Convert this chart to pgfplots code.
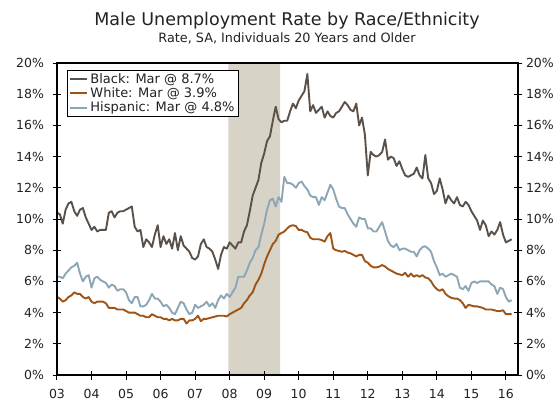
\documentclass[border=0pt]{standalone}
\usepackage{fontspec}
\setmainfont{DejaVu Sans}
\usepackage{pgfplots}
\usepackage{pgfplotstable}
\pgfplotsset{compat=1.18}

\definecolor{blackser}{HTML}{5C5149}
\definecolor{whiteser}{HTML}{9E5416}
\definecolor{hispser}{HTML}{8CA6B6}
\definecolor{recess}{HTML}{D7D3C7}
\definecolor{txt}{HTML}{222222}

% Male unemployment rate, 20 years and older, SA, monthly from Jan 2003 (k = months since Jan 2003)
\pgfplotstableread{
k black white hisp
0 10.4 5.0 6.3
1 10.3 4.9 6.3
2 9.7 4.7 6.2
3 10.6 4.8 6.5
4 11.0 5.0 6.7
5 11.1 5.1 6.9
6 10.5 5.3 7.0
7 10.2 5.2 7.2
8 10.6 5.2 6.5
9 10.7 5.0 6.0
10 10.1 4.9 6.3
11 9.7 5.0 6.4
12 9.3 4.7 5.6
13 9.5 4.6 6.2
14 9.2 4.7 6.3
15 9.3 4.7 6.1
16 9.3 4.7 6.0
17 9.3 4.6 5.9
18 10.4 4.3 5.6
19 10.5 4.3 5.8
20 10.1 4.3 5.7
21 10.4 4.2 5.4
22 10.5 4.2 5.5
23 10.5 4.2 5.5
24 10.6 4.1 5.3
25 10.7 4.0 4.8
26 10.8 4.0 4.6
27 9.5 4.0 5.0
28 9.2 3.9 5.0
29 9.3 3.8 4.4
30 8.2 3.8 4.4
31 8.7 3.7 4.5
32 8.5 3.7 4.8
33 8.2 3.9 5.2
34 9.0 3.8 4.9
35 9.6 3.7 4.9
36 8.2 3.7 4.7
37 8.9 3.6 4.4
38 8.4 3.6 4.5
39 8.7 3.5 4.3
40 8.1 3.6 4.0
41 9.1 3.5 3.9
42 8.0 3.5 4.3
43 8.9 3.6 4.7
44 8.3 3.6 4.6
45 8.1 3.3 4.2
46 7.9 3.5 3.9
47 7.5 3.5 4.0
48 7.4 3.6 4.5
49 7.6 3.8 4.3
50 8.4 3.45 4.4
51 8.7 3.6 4.5
52 8.2 3.6 4.7
53 8.1 3.65 4.4
54 7.9 3.7 4.6
55 7.4 3.75 4.3
56 6.8 3.8 4.8
57 7.7 3.8 5.1
58 8.2 3.8 4.9
59 8.1 3.75 5.2
60 8.5 3.9 5.0
61 8.3 4.0 5.3
62 8.1 4.1 5.6
63 8.5 4.2 6.3
64 8.5 4.3 6.3
65 9.2 4.6 6.3
66 9.6 4.8 6.7
67 10.5 5.1 7.2
68 11.5 5.3 7.5
69 12.0 5.8 8.0
70 12.5 6.1 8.2
71 13.6 6.5 9.0
72 14.2 7.1 9.7
73 15.0 7.6 10.6
74 15.3 8.0 11.2
75 16.3 8.4 11.3
76 17.2 8.6 10.8
77 16.4 9.0 11.4
78 16.2 9.1 11.1
79 16.3 9.2 12.7
80 16.3 9.4 12.3
81 16.9 9.55 12.3
82 17.4 9.6 12.2
83 17.1 9.55 12.0
84 17.6 9.3 12.3
85 17.9 9.3 12.4
86 18.2 9.2 12.1
87 19.3 9.15 11.9
88 16.9 8.8 11.5
89 17.3 8.7 11.4
90 16.8 8.7 11.4
91 17.0 8.7 10.9
92 17.2 8.65 11.4
93 16.5 8.55 11.2
94 16.9 8.9 11.7
95 16.6 9.1 12.2
96 16.5 8.1 11.9
97 16.8 8.0 11.3
98 16.9 7.95 10.8
99 17.2 7.9 10.7
100 17.5 7.95 10.7
101 17.3 7.85 10.3
102 17.0 7.8 10.0
103 16.9 7.7 9.7
104 17.4 7.6 9.5
105 16.0 7.7 10.1
106 16.5 7.7 10.0
107 15.4 7.3 10.0
108 12.8 7.2 9.4
109 14.3 7.0 9.4
110 14.1 6.9 9.2
111 14.0 6.9 9.2
112 14.1 6.95 9.5
113 14.3 7.05 9.8
114 15.1 6.95 9.2
115 13.8 6.8 8.6
116 14.0 6.7 8.3
117 13.9 6.6 8.2
118 13.4 6.5 8.4
119 13.7 6.45 8.0
120 13.2 6.4 8.1
121 12.8 6.55 8.1
122 12.7 6.3 8.0
123 12.8 6.5 7.9
124 12.9 6.3 7.9
125 13.3 6.4 7.6
126 12.8 6.3 8.0
127 12.6 6.4 8.2
128 14.1 6.25 8.25
129 12.6 6.2 8.1
130 12.3 6.0 7.9
131 11.6 5.7 7.3
132 11.8 5.5 6.9
133 12.6 5.4 6.4
134 11.9 5.5 6.5
135 11.0 5.2 6.3
136 11.5 5.05 6.4
137 11.2 4.95 6.5
138 11.0 4.9 6.4
139 11.4 4.9 6.3
140 10.9 4.8 5.6
141 10.8 4.6 5.5
142 11.1 4.3 5.7
143 10.9 4.5 5.4
144 10.5 4.45 5.9
145 10.2 4.4 6.0
146 9.9 4.4 5.9
147 9.3 4.35 6.0
148 9.9 4.3 6.0
149 9.6 4.2 6.0
150 8.9 4.2 6.0
151 9.2 4.2 5.8
152 9.0 4.15 5.7
153 9.3 4.1 5.2
154 9.8 4.1 5.6
155 9.0 4.15 5.5
156 8.5 3.9 5.0
157 8.6 3.9 4.7
158 8.7 3.9 4.8
}\ratedata

\pgfplotsset{
  chartbase/.style={
    at={(57pt,25pt)}, anchor=south west,
    scale only axis, width=461pt, height=312pt,
    xmin=2003, xmax=2016.35, ymin=0, ymax=20,
    ytick={0,2,...,20},
    /pgf/number format/assume math mode=true,
    /pgf/number format/fixed, /pgf/number format/precision=0,
    yticklabel={\pgfmathprintnumber{\tick}\%},
    tick align=center, major tick length=9pt,
    tick style={black, line width=1pt},
    axis line style={black, line width=1.2pt},
    ticklabel style={font=\fontsize{12.5}{14}\selectfont, text=txt},
  }
}

\begin{document}
\begin{tikzpicture}
\useasboundingbox (0,0) rectangle (560pt,400pt);

\node[text=txt, font=\fontsize{17.5}{20}\selectfont, anchor=base] at (287pt,374.3pt) {Male Unemployment Rate by Race/Ethnicity};
\node[text=txt, font=\fontsize{12.8}{15}\selectfont, anchor=base] at (287pt,357.3pt) {Rate, SA, Individuals 20 Years and Older};

\begin{axis}[chartbase,
  axis on top,
  xtick={2003,2004,...,2016},
  xticklabels={03,04,05,06,07,08,09,10,11,12,13,14,15,16},
  xtick pos=bottom, ytick pos=left,
  xticklabel style={yshift=-6pt},
  yticklabel style={xshift=-5pt},
  legend style={at={(axis description cs:0.022,0.978)}, anchor=north west,
    draw=black, line width=0.8pt, fill=white,
    font=\fontsize{13}{14}\selectfont, text=txt,
    inner xsep=2pt, inner ysep=1pt, row sep=-1pt,
    cells={anchor=west}},
  legend image code/.code={\draw[#1] (0pt,0pt) -- (17pt,0pt);},
]
% recession shading, Dec 2007 -- Jun 2009
\addplot[fill=recess, draw=none, forget plot]
  coordinates {(2007.96,0) (2007.96,20) (2009.46,20) (2009.46,0)} \closedcycle;

\addplot[blackser, line width=1.9pt, line join=round]
  table[x expr=2003+\thisrow{k}/12, y=black] {\ratedata};
\addplot[whiteser, line width=1.9pt, line join=round]
  table[x expr=2003+\thisrow{k}/12, y=white] {\ratedata};
\addplot[hispser, line width=1.9pt, line join=round]
  table[x expr=2003+\thisrow{k}/12, y=hisp] {\ratedata};
\legend{Black: Mar @ 8.7\%, White: Mar @ 3.9\%, Hispanic: Mar @ 4.8\%}
\end{axis}

% right-hand percentage scale
\begin{axis}[chartbase,
  axis x line=none, axis y line*=right,
  ytick pos=right, yticklabel pos=right,
]
\end{axis}
\end{tikzpicture}
\end{document}
